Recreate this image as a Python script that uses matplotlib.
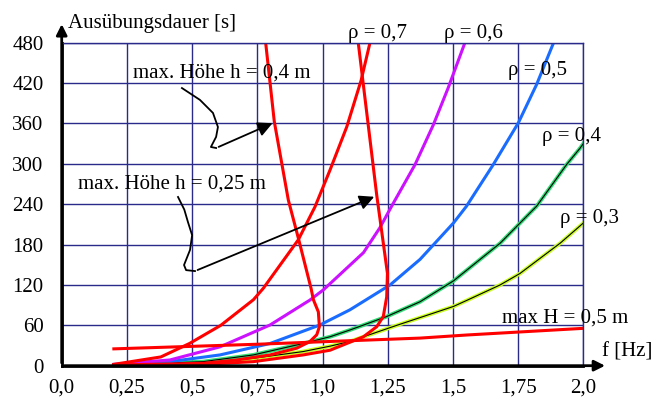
import matplotlib.pyplot as plt

# Frequenz [Hz] / Ausuebungsdauer [s]
f_rho07 = [0.2, 0.38, 0.49, 0.61, 0.735, 0.773, 0.907, 0.971, 1.029, 1.093, 1.148, 1.182]
t_rho07 = [2, 13, 33, 60, 98, 115, 187, 236, 291, 355, 424, 480]

f_rho06 = [0.2, 0.415, 0.607, 0.799, 0.952, 1.003, 1.157, 1.22, 1.265, 1.355, 1.425, 1.482, 1.546]
t_rho06 = [2, 8.5, 28, 60.5, 97.6, 112.6, 168, 205, 237, 299, 358, 413, 480]

f_rho05 = [0.2, 0.415, 0.607, 0.799, 0.99, 1.105, 1.259, 1.374, 1.502, 1.552, 1.655, 1.751, 1.821, 1.886]
t_rho05 = [1.5, 6, 16, 33, 60.5, 83, 120, 158, 212, 237, 299, 361, 418, 480]

f_rho04 = [0.2, 0.543, 0.735, 0.926, 1.029, 1.105, 1.246, 1.374, 1.502, 1.681, 1.821, 1.936, 1.987, 2.0]
t_rho04 = [1, 6, 16, 33, 43, 53, 73, 95, 126, 182, 237, 299, 323, 330]

f_rho03 = [0.2, 0.543, 0.735, 0.926, 1.029, 1.105, 1.285, 1.502, 1.553, 1.681, 1.757, 1.911, 2.0]
t_rho03 = [0.5, 3.5, 11, 21, 29, 36, 60, 88, 97, 120, 137, 182, 212]

f_H05 = [0.2, 0.76, 1.029, 1.374, 1.553, 2.0]
t_H05 = [25, 32, 36, 41, 45.6, 55.5]

f_h04 = [0.2, 0.543, 0.671, 0.799, 0.901, 0.952, 0.978, 0.988, 0.984, 0.965, 0.956, 0.907, 0.869, 0.815, 0.782]
t_h04 = [1, 3.5, 8.5, 16, 26, 36, 46, 58, 80, 98, 115, 190, 246, 363, 480]

f_h025 = [0.2, 0.543, 0.735, 0.926, 1.029, 1.093, 1.157, 1.208, 1.233, 1.246, 1.249, 1.208, 1.137]
t_h025 = [0.5, 2, 6, 16, 23, 33, 43, 58, 73, 102, 137, 253, 480]

# annotation pointers (wavy leader + arrow)
lead_h04_f = [0.461, 0.53, 0.58, 0.599, 0.592, 0.58, 0.572, 0.592]
lead_h04_t = [412.6, 395, 375.6, 354.7, 340, 331, 325, 323.5]
tip_h04 = (0.818, 362)

lead_h025_f = [0.446, 0.47, 0.484, 0.5, 0.492, 0.469, 0.477, 0.511]
lead_h025_t = [250.7, 232, 213.5, 194, 172, 149.6, 142, 140.6]
tip_h025 = (1.208, 252.6)

x_ticks = [0, 0.25, 0.5, 0.75, 1.0, 1.25, 1.5, 1.75, 2.0]
x_labels = ["0,0", "0,25", "0,5", "0,75", "1,0", "1,25", "1,5", "1,75", "2,0"]
y_ticks = [0, 60, 120, 180, 240, 300, 360, 420, 480]

grid_color = "#2a2a8a"

plt.rcParams["font.family"] = ["Liberation Serif", "DejaVu Serif"]
plt.rcParams["lines.solid_joinstyle"] = "round"

fig = plt.figure(figsize=(6.53, 3.99), dpi=100)
ax = fig.add_axes([0.0945, 0.0835, 0.7988, 0.8095])

ax.set_xlim(0, 2.0)
ax.set_ylim(0, 480)
ax.set_xticks(x_ticks)
ax.set_xticklabels(x_labels)
ax.set_yticks(y_ticks)
ax.tick_params(axis="both", length=0, labelsize=15)
ax.tick_params(axis="x", pad=9)
ax.tick_params(axis="y", pad=13)
ax.grid(True, color=grid_color, linewidth=1)
ax.set_axisbelow(True)

for side in ["top", "right"]:
    ax.spines[side].set_color(grid_color)
    ax.spines[side].set_linewidth(1)
for side in ["left", "bottom"]:
    ax.spines[side].set_color("black")
    ax.spines[side].set_linewidth(2)

# axis arrows
ax.annotate("", xy=(0, 1.066), xytext=(0, 0), xycoords="axes fraction",
            arrowprops=dict(arrowstyle="-|>", color="black", lw=2, mutation_scale=16),
            annotation_clip=False)
ax.annotate("", xy=(1.047, 0), xytext=(0, 0), xycoords="axes fraction",
            arrowprops=dict(arrowstyle="-|>", color="black", lw=2, mutation_scale=16),
            annotation_clip=False)

lw = 2.2
ax.plot(f_rho03, t_rho03, color="#ccff22", linewidth=lw + 0.6)
ax.plot(f_rho03, t_rho03, color="black", linewidth=0.8)
ax.plot(f_rho04, t_rho04, color="#33dd77", linewidth=lw + 0.6)
ax.plot(f_rho04, t_rho04, color="black", linewidth=0.8)
ax.plot(f_rho05, t_rho05, color="#1a6cff", linewidth=lw)
ax.plot(f_rho06, t_rho06, color="#cc11ff", linewidth=lw)
ax.plot(f_rho07, t_rho07, color="#ff0000", linewidth=lw)
ax.plot(f_H05, t_H05, color="#ff0000", linewidth=lw)
ax.plot(f_h04, t_h04, color="#ff0000", linewidth=lw)
ax.plot(f_h025, t_h025, color="#ff0000", linewidth=lw)

# pointers to the height curves
ax.plot(lead_h04_f, lead_h04_t, color="black", linewidth=1.3)
ax.annotate("", xy=tip_h04, xytext=(lead_h04_f[-1], lead_h04_t[-1]),
            arrowprops=dict(arrowstyle="-|>", color="black", lw=1.3, mutation_scale=22))
ax.plot(lead_h025_f, lead_h025_t, color="black", linewidth=1.3)
ax.annotate("", xy=tip_h025, xytext=(lead_h025_f[-1], lead_h025_t[-1]),
            arrowprops=dict(arrowstyle="-|>", color="black", lw=1.3, mutation_scale=22))

fs = 15
ax.text(0.024, 508, "Ausübungsdauer [s]", fontsize=fs, ha="left", va="center", clip_on=False)
ax.text(0.274, 435, "max. Höhe h = 0,4 m", fontsize=fs, ha="left", va="center")
ax.text(0.0625, 270, "max. Höhe h = 0,25 m", fontsize=fs, ha="left", va="center")
ax.text(1.209, 494, "ρ = 0,7", fontsize=fs, ha="center", va="center", clip_on=False)
ax.text(1.578, 494, "ρ = 0,6", fontsize=fs, ha="center", va="center", clip_on=False)
ax.text(1.824, 439, "ρ = 0,5", fontsize=fs, ha="center", va="center")
ax.text(1.955, 340, "ρ = 0,4", fontsize=fs, ha="center", va="center", clip_on=False)
ax.text(2.022, 219, "ρ = 0,3", fontsize=fs, ha="center", va="center", clip_on=False)
ax.text(1.93, 70.4, "max H = 0,5 m", fontsize=fs, ha="center", va="center", clip_on=False)
ax.text(2.168, 20.8, "f [Hz]", fontsize=fs, ha="center", va="center", clip_on=False)

fig.savefig("out.png", dpi=100)
